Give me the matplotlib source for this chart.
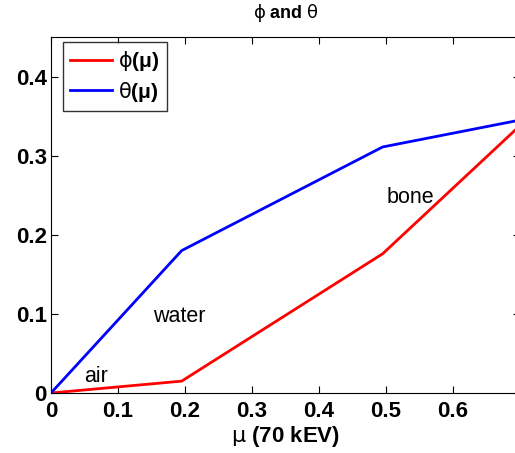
import matplotlib.pyplot as plt

plt.rcParams['font.family'] = ['Liberation Sans', 'DejaVu Sans']

# data
mu = [0.0, 0.195, 0.495, 0.70]
phi = [0.0, 0.015, 0.176, 0.338]
theta = [0.0, 0.180, 0.311, 0.345]

labels = ['air', 'water', 'bone']
label_x = [0.068, 0.191, 0.536]
label_y = [0.014, 0.090, 0.2405]

fig = plt.figure(figsize=(5.15, 4.53), dpi=100)
W, H = 515, 453
ax = fig.add_axes([51 / W, 60 / H, 469 / W, 356 / H])

ax.plot(mu, phi, color='red', lw=2, label=r'$\mathrm{\phi}$(μ)')
ax.plot(mu, theta, color='blue', lw=2, label=r'$\mathrm{\theta}$(μ)')

for t, x, y in zip(labels, label_x, label_y):
    ax.text(x, y, t, ha='center', va='baseline', fontsize=15.5)

ax.set_xlim(0, 0.7)
ax.set_ylim(0, 0.45)
ax.set_xticks([0, 0.1, 0.2, 0.3, 0.4, 0.5, 0.6])
ax.set_xticklabels(['0', '0.1', '0.2', '0.3', '0.4', '0.5', '0.6'])
ax.set_yticks([0, 0.1, 0.2, 0.3, 0.4])
ax.set_yticklabels(['0', '0.1', '0.2', '0.3', '0.4'])
ax.tick_params(direction='in', top=True, right=True, length=5, width=0.8,
               labelsize=16)
ax.tick_params(axis='x', pad=6)
ax.tick_params(axis='y', pad=3)
for lab in ax.get_xticklabels() + ax.get_yticklabels():
    lab.set_fontweight('bold')

ax.set_xlabel(r'$\mathrm{\mu}$ (70 kEV)', fontsize=16, fontweight='bold', labelpad=1)
ax.set_title(r'$\mathrm{\phi}$ and $\mathrm{\theta}$', fontsize=13,
             fontweight='bold', pad=14)

leg = ax.legend(loc='upper left', bbox_to_anchor=(12 / 469, 1 - 5 / 356),
                fontsize=15, frameon=True, fancybox=False,
                edgecolor='black', handlelength=2.0, borderaxespad=0,
                borderpad=0.35, labelspacing=0.3, handletextpad=0.3)
leg.get_frame().set_linewidth(1.0)
for t in leg.get_texts():
    t.set_fontweight('bold')

fig.savefig('out.png', dpi=100)
